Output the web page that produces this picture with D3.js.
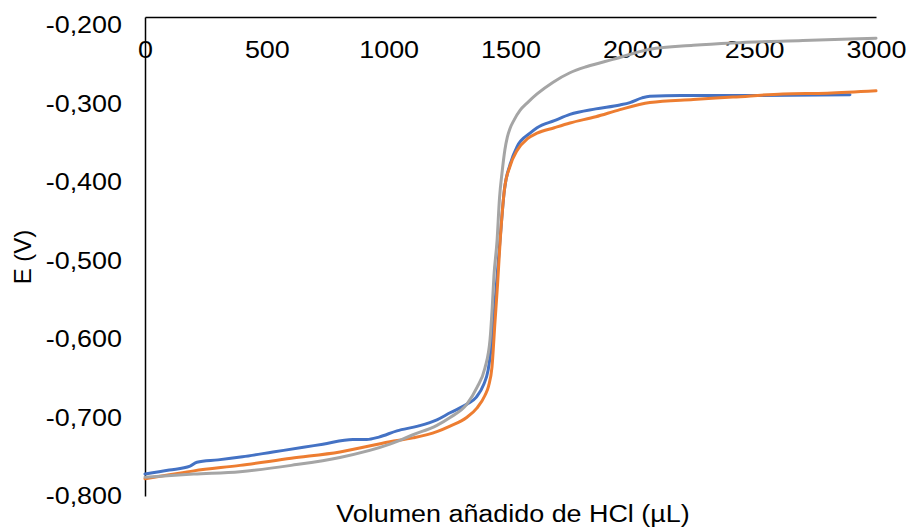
<!DOCTYPE html>
<html>
<head>
<meta charset="utf-8">
<script src="https://cdn.jsdelivr.net/npm/d3@7"></script>
<style>
	body { margin: 0; background: #fff; }
	text { font-family: "Liberation Sans", Arial, sans-serif; fill: #000; }
</style>
</head>
<body>
<svg id="chart" width="909" height="529"></svg>
<script>
// volumen de HCl (uL) y potencial (V) de cada serie
var volBlue = [0, 100, 185, 213, 300, 400, 525, 650, 730, 853, 910, 960, 1034, 1120, 1198, 1252, 1321, 1360, 1390, 1408, 1424, 1440, 1457, 1475, 1498, 1527, 1580, 1609, 1680, 1744, 1850, 1949, 1990, 2040, 2072, 2200, 2500, 2893];
var eBlue = [-0.772, -0.767, -0.762, -0.757, -0.754, -0.750, -0.744, -0.738, -0.734, -0.728, -0.728, -0.725, -0.717, -0.711, -0.703, -0.694, -0.683, -0.674, -0.658, -0.640, -0.601, -0.540, -0.474, -0.410, -0.378, -0.355, -0.338, -0.331, -0.322, -0.314, -0.307, -0.302, -0.299, -0.293, -0.291, -0.290, -0.290, -0.289];

var volOrange = [0, 100, 200, 390, 600, 800, 1005, 1100, 1198, 1252, 1320, 1362, 1395, 1410, 1424, 1436, 1447, 1457, 1475, 1498, 1527, 1570, 1609, 1680, 1744, 1850, 1949, 2072, 2250, 2413, 2618, 2800, 3000];
var eOrange = [-0.778, -0.773, -0.768, -0.761, -0.752, -0.744, -0.731, -0.726, -0.718, -0.711, -0.700, -0.688, -0.672, -0.660, -0.636, -0.580, -0.530, -0.478, -0.410, -0.380, -0.360, -0.345, -0.338, -0.331, -0.325, -0.317, -0.308, -0.299, -0.295, -0.292, -0.288, -0.287, -0.284];

var volGray = [0, 200, 390, 600, 800, 1005, 1100, 1198, 1252, 1321, 1362, 1395, 1416, 1425, 1432, 1445, 1455, 1465, 1477, 1487, 1498, 1515, 1539, 1570, 1609, 1675, 1744, 1814, 1920, 2072, 2250, 2413, 2700, 3000];
var eGray = [-0.776, -0.772, -0.769, -0.761, -0.751, -0.734, -0.722, -0.710, -0.700, -0.683, -0.662, -0.637, -0.601, -0.560, -0.520, -0.474, -0.420, -0.389, -0.359, -0.343, -0.332, -0.321, -0.309, -0.299, -0.288, -0.273, -0.261, -0.253, -0.244, -0.231, -0.226, -0.223, -0.220, -0.217];

var xTicks = [0, 500, 1000, 1500, 2000, 2500, 3000];
var yTicks = [-0.8, -0.7, -0.6, -0.5, -0.4, -0.3, -0.2];

var svg = d3.select('#chart');
var plotLeft = 145, plotRight = 876, plotTop = 17, plotBottom = 496;
var stretch = 'scale(1.17,1)';   // texto algo mas ancho que alto

var x = d3.scaleLinear().domain([0, 3000]).range([plotLeft, plotRight]);
var y = d3.scaleLinear().domain([-0.8, -0.19]).range([plotBottom, plotTop]);

var fmt = function(d) { return d3.format('.3f')(d).replace('.', ',').replace('\u2212', '-'); };

// eje x arriba (cruza en el maximo)
var gx = svg.append('g')
	.attr('transform', `translate(0, ${plotTop})`)
	.call(d3.axisBottom(x).tickValues(xTicks).tickSize(0).tickPadding(0).tickFormat(d3.format('d')));
gx.select('.domain').attr('stroke', '#000').attr('stroke-width', 1.5);
gx.selectAll('text')
	.attr('y', 0).attr('dy', 0)
	.attr('transform', `translate(0, 41) ${stretch}`)
	.style('font-size', '23px');

var gy = svg.append('g')
	.attr('transform', `translate(${plotLeft}, 0)`)
	.call(d3.axisLeft(y).tickValues(yTicks).tickSize(0).tickPadding(0).tickFormat(fmt));
gy.select('.domain').attr('stroke', '#000').attr('stroke-width', 1.5);
gy.selectAll('text')
	.attr('x', 0).attr('dy', '0.34em')
	.attr('transform', `translate(-23, 0) ${stretch}`)
	.style('font-size', '23px');

var series = [
	{ vol: volBlue, e: eBlue, color: '#4472C4' },
	{ vol: volOrange, e: eOrange, color: '#ED7D31' },
	{ vol: volGray, e: eGray, color: '#A5A5A5' }
];

var line = d3.line()
	.x(function(d) { return x(d[0]); })
	.y(function(d) { return y(d[1]); })
	.curve(d3.curveMonotoneX);

series.forEach(function(s) {
	svg.append('path')
		.datum(d3.zip(s.vol, s.e))
		.attr('d', line)
		.attr('fill', 'none')
		.attr('stroke', s.color)
		.attr('stroke-width', 3)
		.attr('stroke-linejoin', 'round')
		.attr('stroke-linecap', 'round');
});

svg.append('text')
	.attr('transform', `translate(513, 522) ${stretch}`)
	.attr('text-anchor', 'middle')
	.style('font-size', '23px')
	.text('Volumen añadido de HCl (µL)');

svg.append('text')
	.attr('transform', 'translate(31, 257) rotate(-90)')
	.attr('text-anchor', 'middle')
	.style('font-size', '24px')
	.text('E (V)');
</script>
</body>
</html>
